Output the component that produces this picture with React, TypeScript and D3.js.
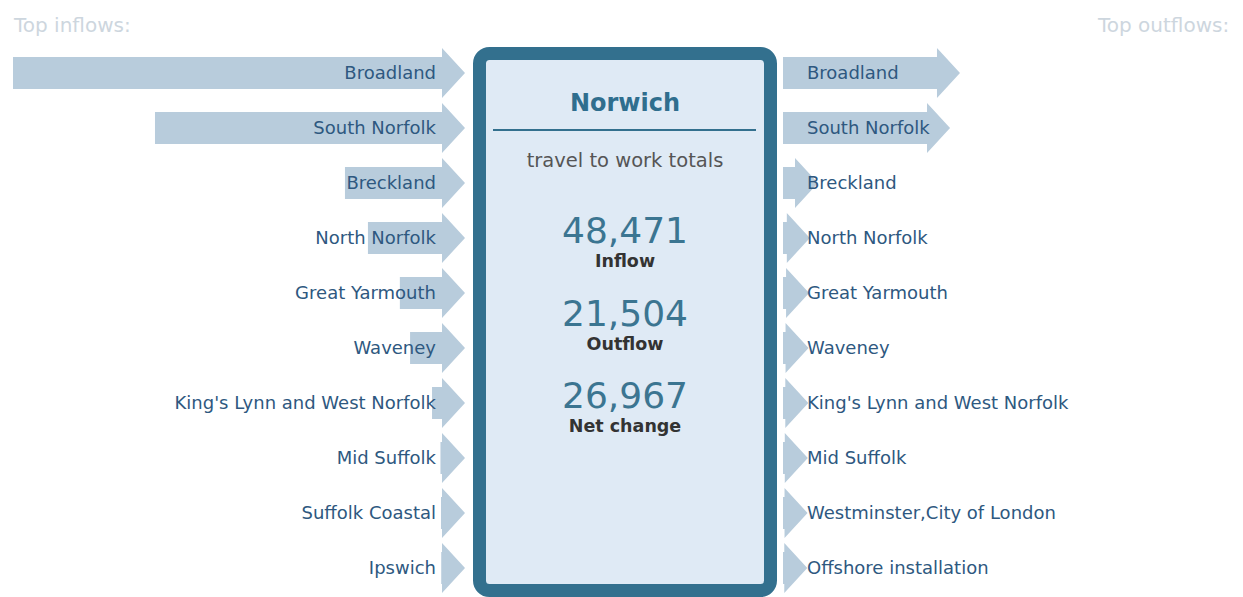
import React from "react";
import * as d3 from "d3";

// values (people commuting)
const inflowPlaces = ["Broadland", "South Norfolk", "Breckland", "North Norfolk", "Great Yarmouth", "Waveney", "King's Lynn and West Norfolk", "Mid Suffolk", "Suffolk Coastal", "Ipswich"];
const inflowValues = [16800, 11240, 3800, 2900, 1650, 1250, 390, 60, 40, 30];

const outflowPlaces = ["Broadland", "South Norfolk", "Breckland", "North Norfolk", "Great Yarmouth", "Waveney", "King's Lynn and West Norfolk", "Mid Suffolk", "Westminster,City of London", "Offshore installation"];
const outflowValues = [6030, 5640, 470, 150, 120, 100, 90, 70, 60, 50];

const cityName = "Norwich";
const totals = [
  { label: "Inflow", value: 48471 },
  { label: "Outflow", value: 21504 },
  { label: "Net change", value: 26967 },
];

const W = 1243;
const H = 597;
const FONT = "'DejaVu Sans', Verdana, sans-serif";
const arrowFill = "#b8ccdc";
const labelColor = "#2e5880";
const headW = 23;
const headH = 25;
const bodyH = 16;

const App = () => {
  const rows = d3.range(inflowPlaces.length);
  const y = d3.scalePoint<number>().domain(rows).range([73, 568]);

  // same scale for both sides
  const len = d3.scaleLinear().domain([0, d3.max(inflowValues) as number]).range([0, 429]);

  const leftEnd = 442; // where the left bodies end and heads start
  const rightStart = 783;

  const leftArrow = (v: number, c: number) => {
    const x0 = leftEnd - len(v);
    const p = d3.path();
    p.moveTo(x0, c - bodyH);
    p.lineTo(leftEnd, c - bodyH);
    p.lineTo(leftEnd, c - headH);
    p.lineTo(leftEnd + headW, c);
    p.lineTo(leftEnd, c + headH);
    p.lineTo(leftEnd, c + bodyH);
    p.lineTo(x0, c + bodyH);
    p.closePath();
    return p.toString();
  };

  const rightArrow = (v: number, c: number) => {
    const x1 = rightStart + len(v);
    const p = d3.path();
    p.moveTo(rightStart, c - bodyH);
    p.lineTo(x1, c - bodyH);
    p.lineTo(x1, c - headH);
    p.lineTo(x1 + headW, c);
    p.lineTo(x1, c + headH);
    p.lineTo(x1, c + bodyH);
    p.lineTo(rightStart, c + bodyH);
    p.closePath();
    return p.toString();
  };

  const fmt = d3.format(",");
  const cx = 625;
  const numY = [243, 326, 408];

  return (
    <div style={{ position: "absolute", left: 0, top: 0 }}>
      <svg width={W} height={H} style={{ display: "block", background: "#fff" }}>
        <text x={14} y={32} fontFamily={FONT} fontSize={20} fill="#cdd6de">Top inflows:</text>
        <text x={1098} y={32} fontFamily={FONT} fontSize={20} fill="#cdd6de">Top outflows:</text>

        {inflowPlaces.map((name, i) => (
          <g key={"in-" + i}>
            <path d={leftArrow(inflowValues[i], y(i) as number)} fill={arrowFill} />
            <text x={436} y={(y(i) as number) + 6} textAnchor="end" fontFamily={FONT} fontSize={18} fill={labelColor}>
              {name}
            </text>
          </g>
        ))}

        {outflowPlaces.map((name, i) => (
          <g key={"out-" + i}>
            <path d={rightArrow(outflowValues[i], y(i) as number)} fill={arrowFill} />
            <text x={807} y={(y(i) as number) + 6} fontFamily={FONT} fontSize={18} fill={labelColor}>
              {name}
            </text>
          </g>
        ))}

        <rect x={479.5} y={53.5} width={291} height={537} rx={10} ry={10} fill="#dfeaf5" stroke="#33708e" strokeWidth={13} />
        <text x={cx} y={111} textAnchor="middle" fontFamily={FONT} fontWeight="bold" fontSize={24} fill="#2f6e8e">{cityName}</text>
        <line x1={493} x2={756} y1={130} y2={130} stroke="#33708e" strokeWidth={2} />
        <text x={cx} y={167} textAnchor="middle" fontFamily={FONT} fontSize={19.5} fill="#555">travel to work totals</text>

        {totals.map((t, i) => (
          <g key={t.label}>
            <text x={cx} y={numY[i]} textAnchor="middle" fontFamily={FONT} fontSize={36} fill="#3b7591">{fmt(t.value)}</text>
            <text x={cx} y={numY[i] + 24} textAnchor="middle" fontFamily={FONT} fontWeight="bold" fontSize={17.5} fill="#333">{t.label}</text>
          </g>
        ))}
      </svg>
    </div>
  );
};

export default App;
